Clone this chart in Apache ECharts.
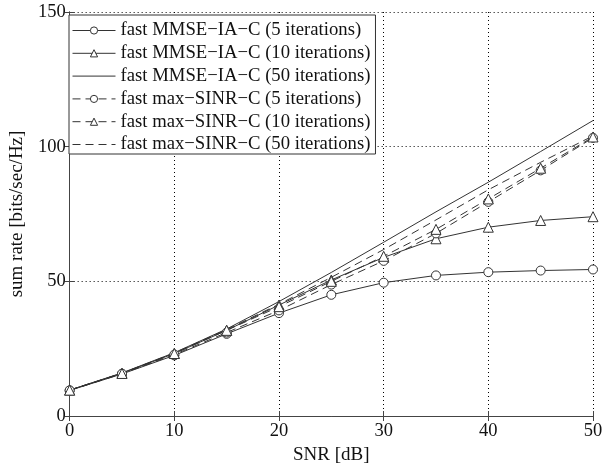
<!DOCTYPE html>
<html>
<head>
<meta charset="utf-8">
<script src="https://cdn.jsdelivr.net/npm/echarts@6/dist/echarts.min.js"></script>
<style>html,body{margin:0;padding:0;background:#fff}#c{width:611px;height:470px}</style>
</head>
<body>
<div id="c"></div>
<script>
const snr = [0, 5, 10, 15, 20, 25, 30, 35, 40, 45, 50];
const mmse5  = [9.5, 15.6, 22.5, 30.5, 38.2, 45.0, 49.5, 52.2, 53.4, 54.0, 54.4];
const mmse10 = [9.6, 15.9, 23.2, 31.8, 41.2, 50.5, 58.9, 65.8, 70.1, 72.6, 74.0];
const mmse50 = [9.6, 16.0, 23.5, 32.3, 42.5, 53.3, 64.5, 75.8, 86.8, 98.2, 109.7];
const sinr5  = [9.5, 15.7, 22.8, 31.0, 39.2, 48.8, 57.6, 67.8, 79.5, 91.2, 103.3];
const sinr10 = [9.6, 15.8, 23.2, 31.8, 40.6, 50.0, 59.3, 69.3, 80.6, 92.0, 103.6];
const sinr50 = [9.6, 15.9, 23.4, 32.1, 41.5, 51.5, 61.8, 72.8, 84.0, 94.2, 104.0];
const names = [
  'fast MMSE\u2212IA\u2212C (5 iterations)',
  'fast MMSE\u2212IA\u2212C (10 iterations)',
  'fast MMSE\u2212IA\u2212C (50 iterations)',
  'fast max\u2212SINR\u2212C (5 iterations)',
  'fast max\u2212SINR\u2212C (10 iterations)',
  'fast max\u2212SINR\u2212C (50 iterations)'
];
const xTicks = [0, 10, 20, 30, 40, 50];
const yTicks = [0, 50, 100, 150];

const FONT = 'Liberation Serif';
const LC = '#333';
const pair = a => snr.map((x, i) => [x, a[i]]);

function mk(name, data, symbol, dashed) {
  const hasSym = !!symbol;
  return {
    name, type: 'line', data: pair(data),
    xAxisIndex: 0, yAxisIndex: 0,
    symbol: hasSym ? symbol : 'circle',
    symbolSize: symbol === 'triangle' ? 10 : 9,
    showSymbol: hasSym,
    itemStyle: hasSym
      ? { color: '#fff', borderColor: LC, borderWidth: 1 }
      : { color: 'rgba(0,0,0,0)', borderColor: 'rgba(0,0,0,0)', borderWidth: 0 },
    lineStyle: { color: LC, width: 1, type: dashed ? [8, 5] : 'solid' },
    emphasis: { disabled: true },
    animation: false
  };
}

const chart = echarts.init(document.getElementById('c'), null, { renderer: 'canvas' });
const axisCommon = {
  axisLine: { show: true, lineStyle: { color: '#444', width: 1 } },
  axisTick: { show: true, inside: true, length: 5, lineStyle: { color: '#444' } },
};
chart.setOption({
  backgroundColor: '#fff',
  animation: false,
  textStyle: { fontFamily: FONT },
  grid: { left: 67, right: 18, top: 12, bottom: 44, show: false },
  legend: {
    orient: 'vertical', left: 69, top: 15,
    padding: [6, 5, 0, 3],
    itemWidth: 43, itemHeight: 9, itemGap: 3.8,
    backgroundColor: '#fff', borderColor: '#333', borderWidth: 1,
    textStyle: { fontFamily: FONT, fontSize: 18.7, color: '#111', lineHeight: 18 },
    itemStyle: { borderWidth: 1 },
    lineStyle: { width: 1 },
    data: names,
    selectedMode: false
  },
  xAxis: [
    Object.assign({
      type: 'value', min: 0, max: 50, interval: 10, position: 'bottom',
      name: 'SNR [dB]', nameLocation: 'middle', nameGap: 30,
      nameTextStyle: { fontFamily: FONT, fontSize: 19, color: '#111' },
      axisLabel: { fontFamily: FONT, fontSize: 18.5, color: '#111', margin: 6,
        formatter: v => xTicks.includes(v) ? String(v) : '' },
      splitLine: { show: true, lineStyle: { color: '#000', width: 1, type: [1, 3] } }
    }, axisCommon),
    Object.assign({
      type: 'value', min: 0, max: 50, interval: 10, position: 'top',
      axisLabel: { show: false }, splitLine: { show: false }
    }, axisCommon)
  ],
  yAxis: [
    Object.assign({
      type: 'value', min: 0, max: 150, interval: 50, position: 'left',
      name: 'sum rate [bits/sec/Hz]', nameLocation: 'middle', nameGap: 38, nameRotate: 90,
      nameTextStyle: { fontFamily: FONT, fontSize: 19, color: '#111' },
      axisLabel: { fontFamily: FONT, fontSize: 18.5, color: '#111', margin: 4,
        formatter: v => yTicks.includes(v) ? String(v) : '' },
      splitLine: { show: true, lineStyle: { color: '#000', width: 1, type: [1, 3] } }
    }, axisCommon),
    Object.assign({
      type: 'value', min: 0, max: 150, interval: 50, position: 'right',
      axisLabel: { show: false }, splitLine: { show: false }
    }, axisCommon)
  ],
  series: [
    mk(names[0], mmse5, 'circle', false),
    mk(names[1], mmse10, 'triangle', false),
    mk(names[2], mmse50, null, false),
    mk(names[3], sinr5, 'circle', true),
    mk(names[4], sinr10, 'triangle', true),
    mk(names[5], sinr50, null, true)
  ]
});
</script>
</body>
</html>
